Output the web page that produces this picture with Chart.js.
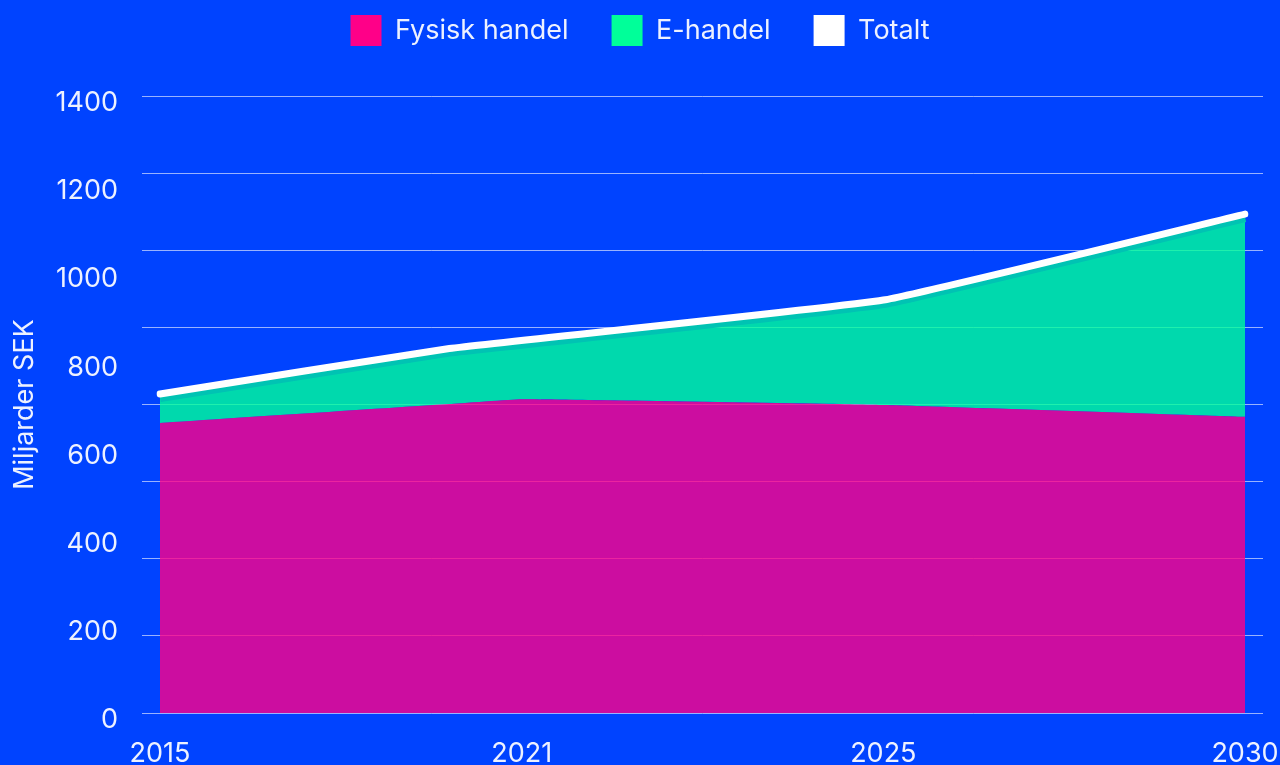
<!DOCTYPE html>
<html><head><meta charset="utf-8">
<script src="https://cdn.jsdelivr.net/npm/chart.js@4.4.0/dist/chart.umd.min.js"></script>
<style>
html,body{margin:0;padding:0;background:#0043ff;overflow:hidden;width:1280px;height:765px;}
#wrap{position:absolute;left:0;top:0;width:1280px;height:790px;}
</style></head><body>
<div id="wrap"><canvas id="c" width="1280" height="790"></canvas></div>
<script>
// x categories (only some are labelled in the original)
const categories = ['2015','','','','','2021','','','','','2025','','','','','2030'];
// Miljarder SEK
const fysiskHandel = [658,null,null,null,701,712,null,null,null,null,699,null,null,null,null,672];
const eHandel      = [59, null,null,null,119,126,null,null,null,null,231,null,null,null,null,453];
const totalt       = [724,null,null,null,827,null,null,null,null,null,937,null,null,null,null,1132];
const yTickLabels  = [0,200,400,600,800,1000,1200,1400];
const gridSteps    = [0,175,350,525,700,875,1050,1225,1400];

const FONT = 27;
const textColor = 'rgba(255,255,255,0.93)';
const gridColor = 'rgba(255,255,255,0.6)';

const legendHeight = {
  id: 'legendHeight',
  beforeUpdate(chart) {
    const lg = chart.legend;
    if (lg && !lg._patched) {
      const fit = lg.fit;
      lg.fit = function () { fit.call(this); this.height = 124; };
      lg._patched = true;
    }
  }
};

function noPad(s) { s.paddingLeft = 0; s.paddingRight = 0; s.paddingTop = 0; s.paddingBottom = 0; }

function draw() {
  Chart.defaults.font.family = 'Inter, "Noto Sans", sans-serif';
  new Chart(document.getElementById('c'), {
    type: 'line',
    data: {
      labels: categories,
      datasets: [
        { label: 'Fysisk handel', data: fysiskHandel, stack: 'handel', yAxisID: 'y',
          backgroundColor: '#ff0088', borderColor: 'rgba(0,0,0,0)', borderWidth: 0,
          fill: { target: 'origin', above: 'rgba(255,0,136,0.8)', below: 'rgba(255,0,136,0.8)' },
          pointRadius: 0, tension: 0.1, spanGaps: true, order: 1 },
        { label: 'E-handel', data: eHandel, stack: 'handel', yAxisID: 'y',
          backgroundColor: '#00ff99', borderColor: '#00c3b3', borderWidth: 10,
          fill: { target: '-1', above: 'rgba(0,255,153,0.8)', below: 'rgba(0,255,153,0.8)' },
          pointRadius: 0, tension: 0.1, spanGaps: true, order: 1 },
        { label: 'Totalt', data: totalt, stack: 'tot', yAxisID: 'y',
          backgroundColor: '#ffffff', borderColor: '#ffffff', borderWidth: 7,
          borderCapStyle: 'round', borderJoinStyle: 'round', fill: false,
          pointRadius: 0, tension: 0.1, spanGaps: true, order: 0 }
      ]
    },
    options: {
      responsive: false, animation: false, devicePixelRatio: 1,
      layout: { padding: { top: -28, left: 0, right: 0, bottom: 0 } },
      plugins: {
        tooltip: { enabled: false },
        legend: {
          position: 'top', align: 'center',
          labels: {
            color: textColor, font: { size: FONT }, boxWidth: 31, boxHeight: 31, padding: 43,
            generateLabels(chart) {
              return chart.data.datasets.map((d, i) => ({
                text: d.label, fillStyle: d.backgroundColor, strokeStyle: d.backgroundColor,
                lineWidth: 0, hidden: false, datasetIndex: i, fontColor: textColor
              }));
            }
          }
        }
      },
      scales: {
        x: {
          offset: false,
          grid: { display: false, drawTicks: false }, border: { display: false },
          ticks: { color: textColor, font: { size: FONT }, padding: 25, autoSkip: false, maxRotation: 0, minRotation: 0 },
          afterFit(s) { s.height = 77; noPad(s); }
        },
        y: {
          position: 'left', weight: 0, stacked: true, min: 0, max: 1400,
          afterBuildTicks(s) { s.ticks = gridSteps.map(v => ({ value: v })); },
          grid: { color: gridColor, lineWidth: 1, tickLength: 18, drawTicks: true },
          border: { display: false }, ticks: { display: false },
          afterFit(s) { s.width = 18; noPad(s); }
        },
        yL: {
          position: 'left', weight: 1, min: 0, max: 1400,
          afterBuildTicks(s) { s.ticks = yTickLabels.map(v => ({ value: v })); },
          grid: { display: false, drawTicks: false }, border: { display: false },
          ticks: { color: textColor, font: { size: FONT }, padding: 24, labelOffset: 7,
                   callback: v => String(v) },
          title: { display: true, text: 'Miljarder SEK', color: textColor, font: { size: FONT }, padding: { top: 9, bottom: 0 } },
          afterFit(s) { s.width = 142; noPad(s); }
        },
        yR: {
          position: 'right', weight: 0, min: 0, max: 1400,
          afterBuildTicks(s) { s.ticks = gridSteps.map(v => ({ value: v })); },
          grid: { drawOnChartArea: false, color: gridColor, lineWidth: 1, tickLength: 18 },
          border: { display: false }, ticks: { display: false },
          afterFit(s) { s.width = 35; noPad(s); }
        }
      }
    },
    plugins: [legendHeight]
  });
}
if (document.fonts && document.fonts.load) {
  document.fonts.load('27px Inter').then(draw, draw);
} else { draw(); }
</script>
</body></html>
